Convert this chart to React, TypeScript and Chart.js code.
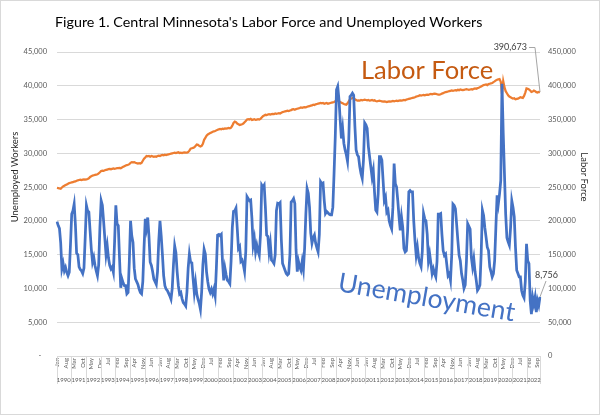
import React, { useEffect, useRef } from 'react';
import { Chart, registerables } from 'chart.js';

Chart.register(...registerables);

const titleText = "Figure 1. Central Minnesota's Labor Force and Unemployed Workers";

const years = [
  1990, 1991, 1992, 1993, 1994, 1995, 1996, 1997, 1998, 1999, 2000, 2001,
  2002, 2003, 2004, 2005, 2006, 2007, 2008, 2009, 2010, 2011, 2012, 2013,
  2014, 2015, 2016, 2017, 2018, 2019, 2020, 2021, 2022,
];

const monthNames = ['Jan', 'Feb', 'Mar', 'Apr', 'May', 'Jun', 'Jul', 'Aug', 'Sep', 'Oct', 'Nov', 'Dec'];

// Unemployed workers, monthly Jan 1990 - Nov 2022 (one row per year)
const unemployment = [
  19900, 19300, 18900, 16800, 12900, 13700, 12600, 13100, 12400, 11900, 12400, 16500,
  21000, 21500, 22500, 19500, 15200, 15000, 13200, 12800, 12600, 12200, 13000, 17500,
  22300, 21500, 21300, 18500, 15800, 13900, 14600, 13400, 12600, 11900, 13500, 19000,
  23000, 22300, 20000, 17500, 15000, 16300, 14500, 13400, 12900, 13200, 12400, 17000,
  22300, 19600, 19300, 14500, 10100, 11400, 10800, 10400, 10400, 9200, 9400, 14000,
  20000, 17800, 16800, 13000, 11400, 11000, 10600, 9900, 9400, 9200, 11000, 16000,
  20300, 19000, 20500, 17800, 13900, 13400, 12500, 11400, 11000, 10600, 12500, 17000,
  20000, 17800, 15000, 11900, 10400, 9900, 9700, 9300, 8900, 8400, 10000, 13500,
  16300, 15300, 12500, 10400, 9200, 9400, 8500, 7900, 7700, 7400, 9500, 13000,
  15100, 13900, 13800, 11500, 9400, 10900, 9200, 8400, 7800, 6900, 9500, 13500,
  15800, 15100, 12400, 11000, 9900, 9400, 9900, 9200, 9900, 8900, 13000, 17900,
  18000, 17800, 18000, 14000, 11200, 13000, 12000, 11200, 11000, 10700, 14000, 19000,
  21400, 21500, 21900, 19000, 15900, 16200, 14000, 14200, 13500, 12500, 15500, 23600,
  23300, 23000, 23100, 20400, 16400, 17400, 15400, 16400, 15500, 14900, 18000, 25300,
  25000, 25300, 22000, 17900, 17700, 15400, 16700, 14200, 14000, 13700, 15000, 21500,
  22600, 22500, 22700, 17200, 13700, 13200, 12700, 12200, 12000, 12200, 15000, 22800,
  23000, 23300, 22600, 15700, 12500, 14000, 13200, 12700, 14000, 12800, 16000, 21000,
  24800, 24100, 22000, 18200, 16700, 17500, 17900, 16700, 16000, 15400, 18000, 25800,
  25500, 25600, 23000, 21100, 21400, 21200, 21000, 20900, 20900, 22000, 27000, 32500,
  39400, 39900, 38000, 35000, 32200, 33700, 31500, 30500, 29800, 28800, 32000, 38400,
  38600, 38900, 38600, 34000, 30500, 29800, 29500, 28000, 27000, 26300, 29000, 34500,
  34200, 33700, 31000, 29500, 28000, 26500, 27500, 24300, 21600, 21300, 24000, 29500,
  29500, 29000, 26000, 23000, 23500, 21300, 21600, 20000, 19300, 18800, 22000, 28500,
  25500, 25000, 23000, 20600, 18600, 20600, 19100, 15900, 15400, 15600, 18500, 24300,
  24500, 24300, 24300, 20000, 17100, 14900, 16100, 14500, 13700, 13200, 15500, 21100,
  20300, 20000, 18000, 14100, 15100, 13700, 12200, 12900, 12200, 11700, 14000, 21000,
  21000, 21100, 18000, 15600, 14900, 15100, 13500, 11900, 12200, 11200, 15000, 22500,
  22300, 21800, 19500, 17100, 14900, 14100, 12200, 11200, 10000, 10500, 14000, 19600,
  19200, 18800, 14600, 13200, 14400, 12500, 11200, 9700, 10000, 10500, 15000, 21600,
  20800, 19000, 17600, 16100, 15600, 13200, 12500, 11700, 12200, 14100, 19000, 23800,
  22500, 24000, 26000, 40300, 33000, 27000, 21000, 17500, 16900, 16400, 19000, 23000,
  22000, 20600, 16100, 12700, 12200, 11700, 11700, 9700, 9000, 8600, 11000, 16600,
  14100, 13700, 8200, 6200, 8700, 7700, 8700, 6500, 8200, 7500, 8756,
];

// Labor force, monthly Jan 1990 - Nov 2022 (one row per year)
const laborForce = [
  249000, 248500, 248000, 247500, 249500, 251000, 252000, 253000, 254000, 255000, 256000, 256500,
  257000, 257500, 258000, 258500, 259500, 260000, 260500, 261000, 260500, 261000, 261500, 261000,
  261500, 262000, 263000, 265000, 266000, 267000, 267500, 268000, 268500, 269000, 270500, 272000,
  274000, 274500, 274000, 275000, 275500, 276000, 276500, 277000, 276500, 277000, 277500, 277000,
  277500, 278000, 278000, 278500, 278000, 279000, 280000, 281000, 282000, 282500, 283000, 284000,
  286000, 287000, 286500, 287000, 286000, 285500, 285000, 285500, 285000, 286000, 289000, 292000,
  294000, 296000, 295500, 296000, 295000, 296000, 295500, 295000, 295500, 295000, 296000, 296500,
  296000, 297000, 297500, 297000, 298000, 297500, 298000, 298500, 299000, 299500, 300000, 300500,
  301000, 300500, 301000, 301500, 300500, 301000, 300500, 301000, 301500, 301000, 301000, 302000,
  304000, 307000, 307500, 308000, 309000, 311000, 313000, 312500, 311000, 310000, 311000, 314000,
  320000, 323000, 326000, 328000, 329000, 330000, 331000, 332000, 332500, 333000, 334000, 335000,
  335500, 336000, 335500, 336500, 336000, 337000, 336500, 337000, 337500, 337000, 338000, 341000,
  345000, 347000, 346000, 344000, 343000, 342000, 342500, 343000, 344000, 346000, 348000, 350000,
  350500, 350000, 351000, 349500, 350000, 350500, 349500, 350000, 350500, 350000, 351000, 353000,
  355000, 356000, 357000, 356500, 357500, 358000, 357500, 358000, 358500, 358000, 359000, 358500,
  359000, 359500, 359000, 360000, 361000, 361500, 362000, 362500, 363000, 362500, 363500, 364000,
  365000, 365500, 364500, 365500, 366000, 366500, 367000, 368000, 367500, 368000, 368500, 368000,
  369000, 369500, 370000, 370500, 371000, 372000, 371500, 372500, 373000, 373500, 374000, 374500,
  374000, 374500, 373500, 374000, 374500, 373500, 374000, 374500, 375000, 375500, 376000, 377000,
  378000, 378500, 377000, 376000, 375000, 374000, 373000, 372500, 372000, 374000, 377000, 380000,
  381000, 382000, 381500, 380000, 379000, 378000, 378500, 378000, 379000, 378500, 379000, 379500,
  379000, 378500, 379000, 378000, 378500, 379000, 378000, 378500, 377500, 377000, 377500, 378000,
  377500, 377000, 376500, 377000, 376500, 376000, 376500, 377000, 376500, 377000, 377500, 377000,
  377500, 378000, 377500, 378000, 378500, 378000, 378500, 379000, 378500, 379500, 380000, 380500,
  381000, 381500, 382000, 382500, 383000, 384000, 384500, 385000, 386000, 385500, 386000, 386500,
  386000, 386500, 387000, 386500, 387500, 388000, 387500, 388000, 388500, 388000, 387500, 387000,
  387000, 387500, 388500, 389000, 390000, 390500, 391000, 391500, 392000, 392500, 393000, 392500,
  393000, 393500, 393000, 394000, 393500, 394500, 394000, 393500, 394000, 394500, 395000, 394500,
  394000, 394500, 395000, 394500, 395500, 396000, 395500, 396500, 397000, 398000, 399000, 400000,
  401000, 401500, 402000, 401000, 402500, 403000, 403500, 404000, 405500, 406500, 408000, 409000,
  409500, 410000, 406000, 388000, 407000, 398000, 392000, 389000, 386000, 384000, 383000, 382000,
  381000, 381500, 380000, 380500, 381000, 382000, 383000, 382500, 382000, 385000, 390000, 396000,
  395500, 394500, 393000, 391000, 391500, 393000, 392000, 390500, 390000, 391000, 390673,
];

const categories = unemployment.map((_, i) => `${monthNames[i % 12]} ${years[Math.floor(i / 12)]}`);

const FONT = 'Lato, Carlito, "Open Sans", sans-serif';
const fmt = (v: number) => v.toLocaleString('en-US');

const decorPlugin = {
  id: 'decor',
  beforeDraw(chart: any) {
    const { ctx, width, height } = chart;
    ctx.save();
    ctx.fillStyle = '#ffffff';
    ctx.fillRect(0, 0, width, height);
    ctx.restore();
  },
  afterDraw(chart: any) {
    const { ctx, chartArea, scales, width, height } = chart;
    const xs = scales.x;
    const yl = scales.y;
    const yr = scales.y1;
    ctx.save();

    // outer border
    ctx.strokeStyle = '#d9d9d9';
    ctx.lineWidth = 1;
    ctx.strokeRect(0.5, 0.5, width - 1, height - 1);

    // title
    ctx.fillStyle = '#000000';
    ctx.font = `14.3px ${FONT}`;
    ctx.textAlign = 'left';
    ctx.textBaseline = 'alphabetic';
    ctx.fillText(titleText, 55, 27);

    // axis titles
    ctx.fillStyle = '#262626';
    ctx.font = `9.5px ${FONT}`;
    ctx.textAlign = 'center';
    ctx.textBaseline = 'middle';
    ctx.save();
    ctx.translate(15, 177);
    ctx.rotate(-Math.PI / 2);
    ctx.fillText('Unemployed Workers', 0, 0);
    ctx.restore();
    ctx.save();
    ctx.translate(584, 177);
    ctx.rotate(Math.PI / 2);
    ctx.fillText('Labor Force', 0, 0);
    ctx.restore();

    // year separators and labels
    const n = unemployment.length;
    ctx.strokeStyle = '#d9d9d9';
    ctx.lineWidth = 1;
    const y0 = chartArea.bottom;
    for (let k = 0; k <= years.length; k++) {
      const idx = Math.min(k * 12, n) - 0.5;
      let px = xs.getPixelForValue(idx);
      px = Math.max(chartArea.left, Math.min(chartArea.right, px));
      px = Math.round(px) + 0.5;
      ctx.beginPath();
      ctx.moveTo(px, y0);
      ctx.lineTo(px, y0 + 28);
      ctx.stroke();
    }
    ctx.fillStyle = '#595959';
    ctx.font = `6px ${FONT}`;
    ctx.textAlign = 'center';
    ctx.textBaseline = 'middle';
    years.forEach((yr, k) => {
      const a = k * 12;
      const b = Math.min(k * 12 + 11, n - 1);
      const px = xs.getPixelForValue((a + b) / 2);
      ctx.fillText(String(yr), px, y0 + 24);
    });

    // series annotations
    ctx.fillStyle = '#C55A11';
    ctx.font = `25.5px ${FONT}`;
    ctx.textAlign = 'left';
    ctx.textBaseline = 'alphabetic';
    ctx.fillText('Labor Force', 361, 79);

    ctx.save();
    ctx.fillStyle = '#4472C4';
    ctx.font = `26.5px ${FONT}`;
    ctx.translate(337, 291);
    ctx.rotate((9.8 * Math.PI) / 180);
    ctx.fillText('Unemployment', 0, 0);
    ctx.restore();

    // data labels with leader lines
    const last = n - 1;
    const lx = xs.getPixelForValue(last);
    const lfY = yr.getPixelForValue(laborForce[last]);
    const unY = yl.getPixelForValue(unemployment[last]);
    ctx.strokeStyle = '#a6a6a6';
    ctx.lineWidth = 1;
    ctx.beginPath();
    ctx.moveTo(529, 47.5);
    ctx.lineTo(535, 47.5);
    ctx.lineTo(lx, lfY);
    ctx.stroke();
    ctx.beginPath();
    ctx.moveTo(546, 281);
    ctx.lineTo(lx, unY);
    ctx.stroke();

    ctx.fillStyle = '#404040';
    ctx.font = `9px ${FONT}`;
    ctx.textBaseline = 'middle';
    ctx.textAlign = 'right';
    ctx.fillText(fmt(laborForce[last]), 527, 47);
    ctx.textAlign = 'left';
    ctx.fillText(fmt(unemployment[last]), 535, 275);

    ctx.restore();
  },
};

export default function App() {
  const ref = useRef<HTMLCanvasElement | null>(null);
  useEffect(() => {
    if (!ref.current) return;
    const tickFont = { family: FONT, size: 7.5 };
    const chart = new Chart(ref.current, {
      type: 'line',
      data: {
        labels: categories,
        datasets: [
          {
            label: 'Unemployment',
            data: unemployment,
            yAxisID: 'y',
            borderColor: '#4472C4',
            borderWidth: 2.75,
            pointRadius: 0,
            tension: 0,
            fill: false,
          },
          {
            label: 'Labor Force',
            data: laborForce,
            yAxisID: 'y1',
            borderColor: '#ED7D31',
            borderWidth: 2.25,
            pointRadius: 0,
            tension: 0,
            fill: false,
          },
        ],
      },
      options: {
        animation: false,
        responsive: false,
        events: [],
        layout: { padding: { top: 52, left: 0, right: 0, bottom: 0 } },
        plugins: {
          legend: { display: false },
          tooltip: { enabled: false },
          title: { display: false },
        },
        scales: {
          x: {
            type: 'category',
            offset: false,
            grid: { display: false, drawTicks: false },
            border: { display: false },
            ticks: {
              autoSkip: false,
              minRotation: 90,
              maxRotation: 90,
              padding: 2,
              color: '#595959',
              font: { family: FONT, size: 6 },
              callback: (_v: any, i: number) => (i % 7 === 0 ? monthNames[i % 12] : ''),
            },
            afterFit: (s: any) => {
              s.height = 59;
            },
          },
          y: {
            position: 'left',
            min: 0,
            max: 45000,
            grid: { color: '#d9d9d9', drawTicks: false, lineWidth: 1 },
            border: { display: false },
            ticks: {
              stepSize: 5000,
              padding: 10,
              color: '#595959',
              font: tickFont,
              callback: (v: any) => (Number(v) === 0 ? '-   ' : fmt(Number(v))),
            },
            afterFit: (s: any) => {
              s.width = 57;
            },
          },
          y1: {
            position: 'right',
            min: 0,
            max: 450000,
            grid: { display: false, drawTicks: false },
            border: { display: false },
            ticks: {
              stepSize: 50000,
              padding: 8,
              color: '#595959',
              font: tickFont,
              callback: (v: any) => fmt(Number(v)),
            },
            afterFit: (s: any) => {
              s.width = 60;
            },
          },
        },
      },
      plugins: [decorPlugin],
    } as any);
    return () => chart.destroy();
  }, []);

  return (
    <div style={{ position: 'fixed', left: 0, top: 0, width: 600, height: 415, background: '#fff' }}>
      <canvas ref={ref} width={600} height={415} style={{ width: 600, height: 415, display: 'block' }} />
    </div>
  );
}
